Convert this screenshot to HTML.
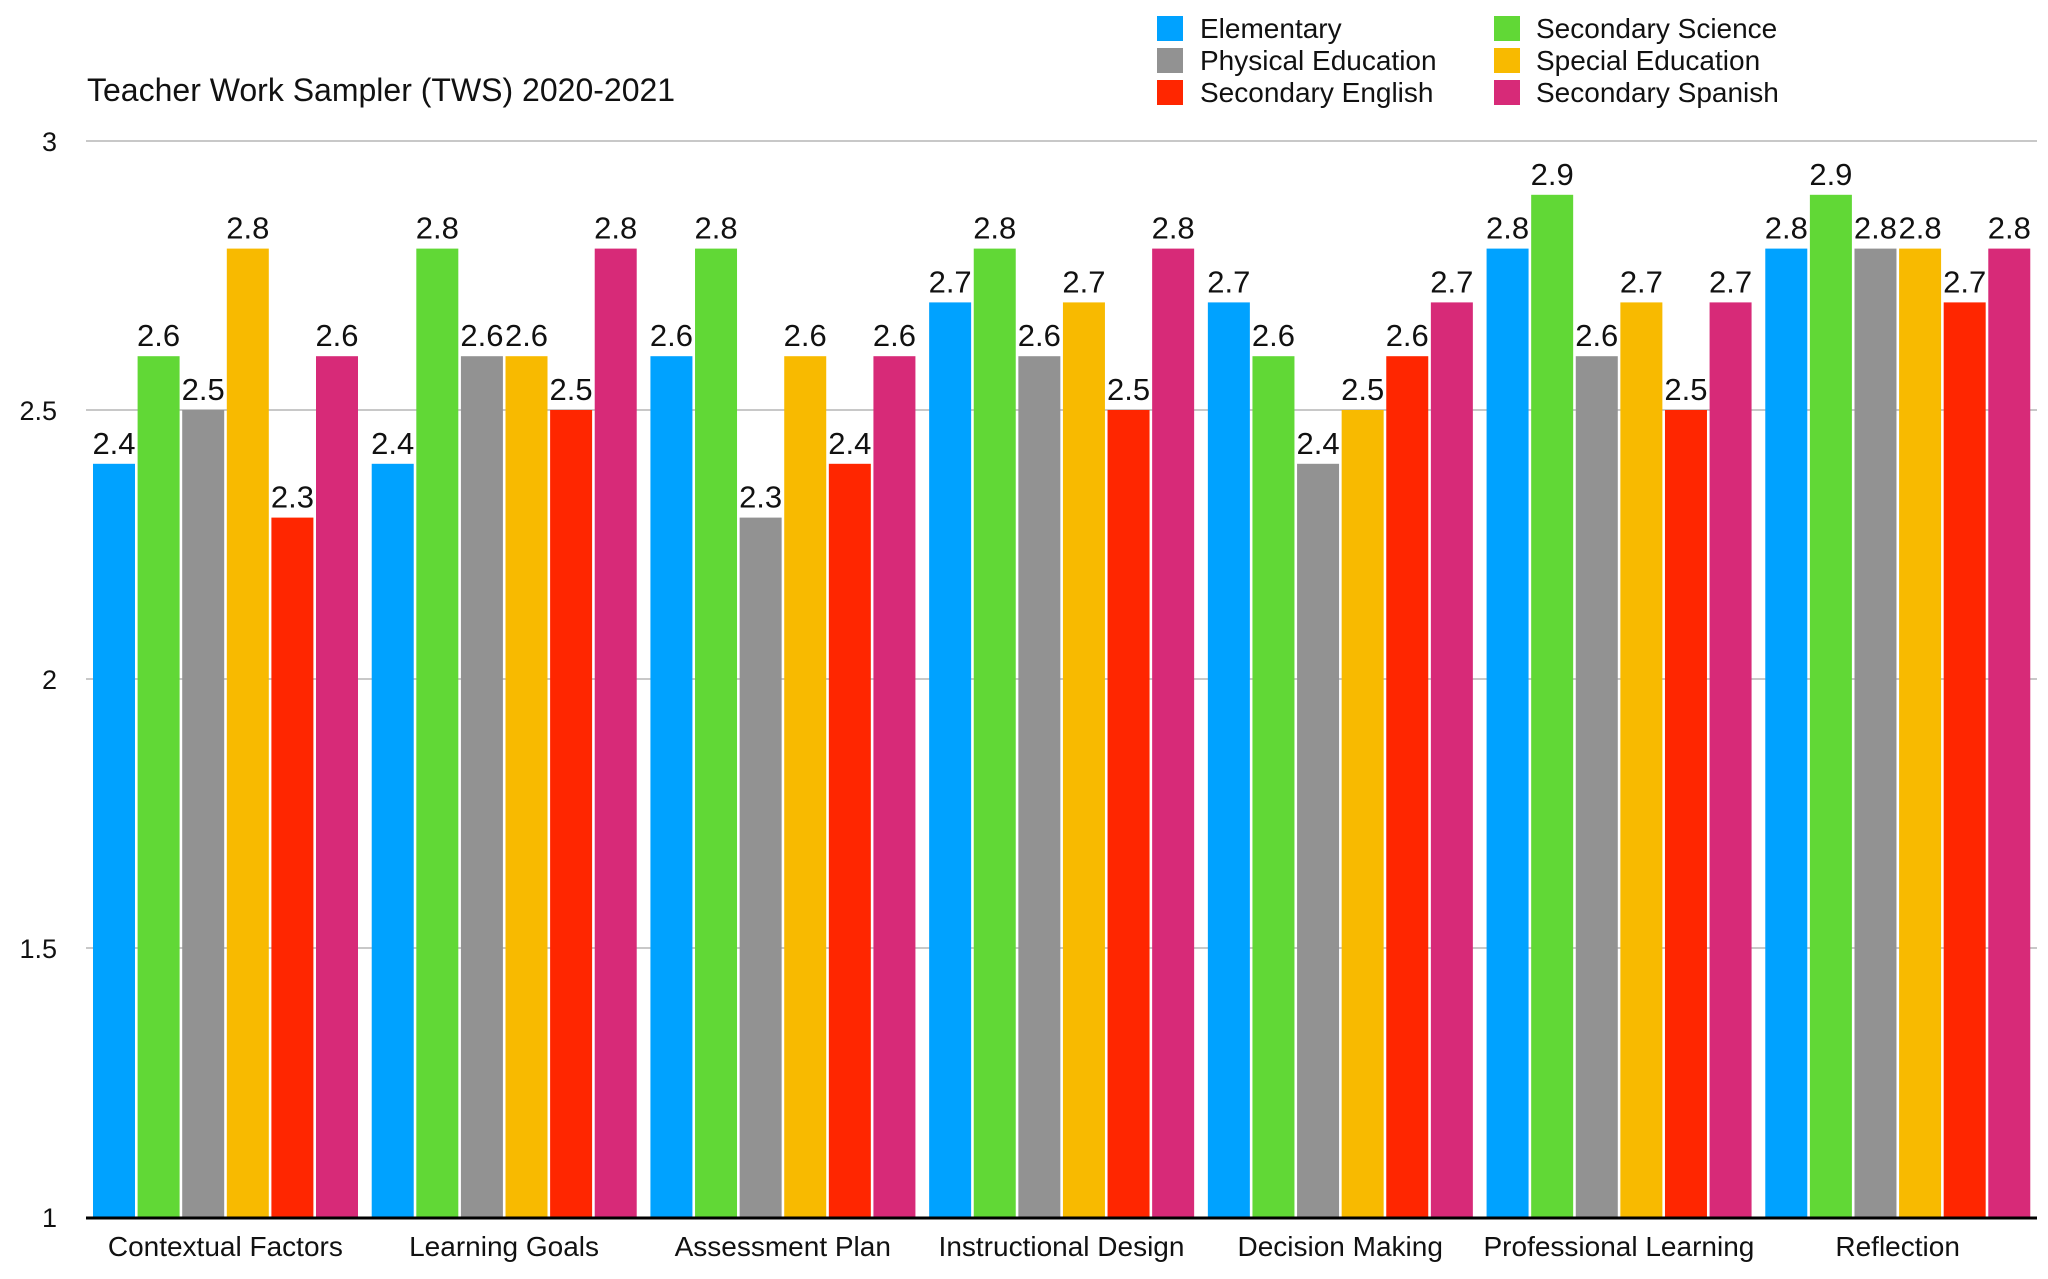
<!DOCTYPE html>
<html><head><meta charset="utf-8"><style>
html,body{margin:0;padding:0;background:#fff;}
svg{display:block;font-family:"Liberation Sans",sans-serif;}
</style></head><body>
<svg id="c" width="2048" height="1279" viewBox="0 0 2048 1279" xmlns="http://www.w3.org/2000/svg">
<text x="87" y="101" font-size="32" fill="#111">Teacher Work Sampler (TWS) 2020-2021</text>
<g font-size="28" fill="#111">
<rect x="1157" y="16" width="26" height="25" fill="#00a2ff"/><text x="1200" y="38">Elementary</text>
<rect x="1157" y="48" width="26" height="25" fill="#929292"/><text x="1200" y="70">Physical Education</text>
<rect x="1157" y="80" width="26" height="25" fill="#ff2600"/><text x="1200" y="102">Secondary English</text>
<rect x="1494" y="16" width="26" height="25" fill="#61d836"/><text x="1536" y="38">Secondary Science</text>
<rect x="1494" y="48" width="26" height="25" fill="#f8ba00"/><text x="1536" y="70">Special Education</text>
<rect x="1494" y="80" width="26" height="25" fill="#d72a78"/><text x="1536" y="102">Secondary Spanish</text>
</g>
</svg>
<script>
var ns="http://www.w3.org/2000/svg",svg=document.getElementById('c');
function el(t,a,txt){var e=document.createElementNS(ns,t);for(var k in a)e.setAttribute(k,a[k]);if(txt!=null)e.textContent=txt;svg.appendChild(e);return e;}
function Y(v){return 1217-(v-1)*538;}
[1.5,2,2.5,3].forEach(function(v){el('line',{x1:86,x2:2037,y1:Y(v),y2:Y(v),stroke:'#c8c8c8','stroke-width':2});});
['1','1.5','2','2.5','3'].forEach(function(s){el('text',{x:57,y:Y(+s)+10,'font-size':27,'text-anchor':'end',fill:'#111'},s);});
var cols=['#00a2ff','#61d836','#929292','#f8ba00','#ff2600','#d72a78'];
var cats=['Contextual Factors','Learning Goals','Assessment Plan','Instructional Design','Decision Making','Professional Learning','Reflection'];
var d=[[2.4,2.6,2.5,2.8,2.3,2.6],[2.4,2.8,2.6,2.6,2.5,2.8],[2.6,2.8,2.3,2.6,2.4,2.6],[2.7,2.8,2.6,2.7,2.5,2.8],[2.7,2.6,2.4,2.5,2.6,2.7],[2.8,2.9,2.6,2.7,2.5,2.7],[2.8,2.9,2.8,2.8,2.7,2.8]];
var gw=(2037-86)/7;
for(var g=0;g<7;g++){
 var gx=86+g*gw;
 for(var i=0;i<6;i++){
  var x=gx+7+i*44.6,v=d[g][i];
  el('rect',{x:x,y:Y(v),width:42,height:1217-Y(v),fill:cols[i]});
  el('text',{x:x+21,y:Y(v)-10,'font-size':31,'text-anchor':'middle',fill:'#111'},v.toFixed(1));
 }
 el('text',{x:gx+gw/2,y:1256,'font-size':28,'text-anchor':'middle',fill:'#111'},cats[g]);
}
el('line',{x1:86,x2:2037,y1:1218,y2:1218,stroke:'#000','stroke-width':3});
</script>
</body></html>
